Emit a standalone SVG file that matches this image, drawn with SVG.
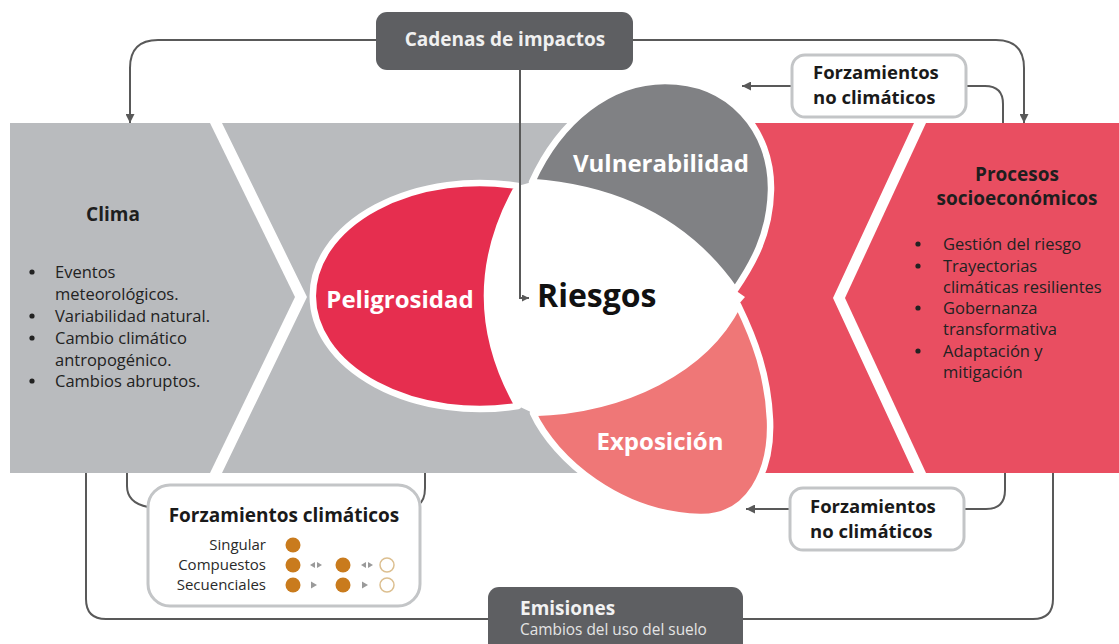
<svg xmlns="http://www.w3.org/2000/svg" width="1119" height="644" viewBox="0 0 1119 644">
<defs>
<marker id="ah" viewBox="0 0 10 10" refX="10" refY="5" markerWidth="9" markerHeight="9" markerUnits="userSpaceOnUse" orient="auto"><path d="M0,0 L10,5 L0,10 Z" fill="#595959"/></marker>
<marker id="ahs" viewBox="0 0 10 10" refX="10" refY="5" markerWidth="7" markerHeight="7" markerUnits="userSpaceOnUse" orient="auto"><path d="M0,0 L10,5 L0,10 Z" fill="#595959"/></marker>
<style>
text{font-family:"Open Sans","Liberation Sans",sans-serif}
.b{font-weight:bold}
.hd{font-size:19px;font-weight:bold;fill:#1e1e1e}
.li{font-size:16.5px;fill:#222222}
.bu{fill:#222222}
.pl{font-size:24px;font-weight:bold;fill:#ffffff}
.con{fill:none;stroke:#595959;stroke-width:2}
.petal{stroke:#ffffff;stroke-width:6.5;stroke-linejoin:round}
.dark{fill:#5e5f62}
.lt{fill:#ffffff;stroke:#c3c5c7;stroke-width:3}
.fz{font-size:18.5px;font-weight:bold;fill:#1a1a1a}
.rw{font-size:15px;fill:#2a2a2a;text-anchor:end}
.dot{fill:#c97b1d}
.hol{fill:#ffffff;stroke:#dcbf90;stroke-width:1.5}
.tri{fill:#9a9a9a}
</style>
</defs>

<g id="clima">
<polygon points="10,123 210,123 295,297 210,473 10,473" fill="#b9bbbe"/>
<text class="hd" x="113" y="221" text-anchor="middle">Clima</text>
<g class="bu">
<circle cx="32" cy="272" r="2.6"/>
<circle cx="32" cy="316" r="2.6"/>
<circle cx="32" cy="338" r="2.6"/>
<circle cx="32" cy="381" r="2.6"/>
</g>
<g class="li">
<text x="55" y="278">Eventos</text>
<text x="55" y="300">meteorológicos.</text>
<text x="55" y="322">Variabilidad natural.</text>
<text x="55" y="344">Cambio climático</text>
<text x="55" y="366">antropogénico.</text>
<text x="55" y="387">Cambios abruptos.</text>
</g>
</g>

<g id="impactos-gris">
<polygon points="222,123 660,123 660,473 222,473 307,297" fill="#b9bbbe"/>
</g>
<g id="impactos-rojo">
<polygon points="660,123 914,123 833,298 914,473 660,473" fill="#e94e61"/>
</g>

<g id="procesos">
<polygon points="926,123 1119,123 1119,473 926,473 845,298" fill="#e94e61"/>
<text class="hd" x="1017" y="181" text-anchor="middle">Procesos</text>
<text class="hd" x="1017" y="205" text-anchor="middle">socioeconómicos</text>
<g class="bu">
<circle cx="918" cy="244" r="2.6"/>
<circle cx="918" cy="266" r="2.6"/>
<circle cx="918" cy="308" r="2.6"/>
<circle cx="918" cy="351" r="2.6"/>
</g>
<g class="li">
<text x="943" y="250">Gestión del riesgo</text>
<text x="943" y="272">Trayectorias</text>
<text x="943" y="293">climáticas resilientes</text>
<text x="943" y="314">Gobernanza</text>
<text x="943" y="335">transformativa</text>
<text x="943" y="357">Adaptación y</text>
<text x="943" y="378">mitigación</text>
</g>
</g>

<g id="peligrosidad">
<path class="petal" d="M518,186 A167,113 0 1 0 518,406 Q456,296 518,186 Z" fill="#e62e4f"/>
<text class="pl" x="400" y="308" text-anchor="middle">Peligrosidad</text>
</g>
<g id="vulnerabilidad">
<path class="petal" d="M532,182 C560,120 610,81 665,81 C730,81 772,130 771,190 C770,235 752,265 735,290 C700,240 640,190 532,182 Z" fill="#808184"/>
<text class="pl" x="661" y="172" text-anchor="middle">Vulnerabilidad</text>
</g>
<g id="exposicion">
<path class="petal" d="M533,413 C555,460 620,515 700,517 C750,518 772,470 770,420 C768,375 755,340 738,305 C705,370 625,410 533,413 Z" fill="#ef7777"/>
<text class="pl" x="660" y="450" text-anchor="middle">Exposición</text>
</g>
<g id="riesgos">
<path d="M518,186 L532,182 C640,190 700,240 735,290 L745,297 L738,305 C705,370 625,410 533,413 L518,406 Q456,296 518,186 Z" fill="#ffffff"/>
<text x="537" y="307" class="b" font-size="32" fill="#111111">Riesgos</text>
</g>

<g id="connectors">
<path class="con" d="M376,40 L158,40 Q130,40 130,68 L130,123" marker-end="url(#ah)"/>
<path class="con" d="M633,40 L996,40 Q1024,40 1024,68 L1024,123" marker-end="url(#ah)"/>
<path class="con" d="M520,70 L520,298 L529,298" marker-end="url(#ahs)"/>
<path class="con" d="M792,86 L742,86" marker-end="url(#ah)"/>
<path class="con" d="M966,86 L985,86 Q1003,86 1003,104 L1003,123"/>
<path class="con" d="M790,509 L746,509" marker-end="url(#ah)"/>
<path class="con" d="M963,509 L986,509 Q1005,509 1005,490 L1005,473"/>
<path class="con" d="M1053,473 L1053,599 Q1053,619 1033,619 L743,619"/>
<path class="con" d="M86,473 L86,599 Q86,619 106,619 L488,619"/>
<path class="con" d="M127,473 L127,486 Q127,503 148,507"/>
<path class="con" d="M425,473 L425,488 Q425,501 418,505"/>
</g>

<g id="cadenas">
<rect class="dark" x="376" y="12" width="257" height="58" rx="11"/>
<text x="505" y="46" class="b" font-size="19" fill="#f0f0f0" text-anchor="middle">Cadenas de impactos</text>
</g>

<g id="forz-nc-top">
<rect class="lt" x="792" y="55" width="174" height="62" rx="13"/>
<text class="fz" x="813" y="79">Forzamientos</text>
<text class="fz" x="813" y="104">no climáticos</text>
</g>

<g id="forz-nc-bottom">
<rect class="lt" x="790" y="488" width="174" height="62" rx="13"/>
<text class="fz" x="810" y="513">Forzamientos</text>
<text class="fz" x="810" y="538">no climáticos</text>
</g>

<g id="forz-clim">
<rect class="lt" x="148" y="485" width="272" height="121" rx="22"/>
<text class="b" x="284" y="522" font-size="19" fill="#1a1a1a" text-anchor="middle">Forzamientos climáticos</text>
<text class="rw" x="266" y="550">Singular</text>
<text class="rw" x="266" y="570">Compuestos</text>
<text class="rw" x="266" y="590">Secuenciales</text>
<circle class="dot" cx="293" cy="545" r="7.5"/>
<circle class="dot" cx="293" cy="565" r="7.5"/>
<circle class="dot" cx="343" cy="565" r="7.5"/>
<circle class="hol" cx="387" cy="565" r="7"/>
<circle class="dot" cx="293" cy="585" r="7.5"/>
<circle class="dot" cx="343" cy="585" r="7.5"/>
<circle class="hol" cx="387" cy="585" r="7"/>
<polygon class="tri" points="310,565 315,562 315,568"/>
<polygon class="tri" points="322,565 317,562 317,568"/>
<polygon class="tri" points="361,565 366,562 366,568"/>
<polygon class="tri" points="373,565 368,562 368,568"/>
<polygon class="tri" points="311,581.5 317,585 311,588.5"/>
<polygon class="tri" points="362,581.5 368,585 362,588.5"/>
</g>

<g id="emisiones">
<rect class="dark" x="488" y="587" width="255" height="70" rx="11"/>
<text x="520" y="615" class="b" font-size="19" fill="#f2f2f2">Emisiones</text>
<text x="520" y="635" font-size="15.4" fill="#e4e4e4">Cambios del uso del suelo</text>
</g>
</svg>
